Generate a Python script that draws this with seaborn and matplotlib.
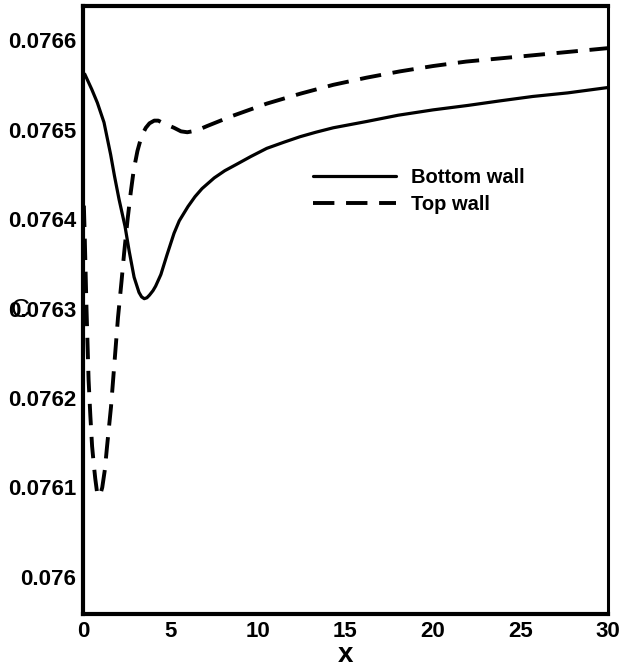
import numpy as np
import pandas as pd
import matplotlib
matplotlib.use("Agg")
import matplotlib.pyplot as plt
from matplotlib.ticker import MultipleLocator
import seaborn as sns

# ---- data ----
bottom_x = [0.1, 0.5, 0.82, 1.2, 1.58, 1.8, 2.06, 2.4, 2.64, 2.92, 3.2, 3.35,
            3.5, 3.65, 3.8, 4.0, 4.15, 4.45, 4.8, 5.2, 5.5, 6.0, 6.4, 6.8, 7.5,
            8.1, 8.76, 9.6, 10.5, 11.5, 12.4, 13.3, 14.3, 16.2, 18.0, 20.0,
            22.0, 23.8, 25.7, 27.7, 30.0]
bottom_c = [0.076562, 0.076545, 0.076530, 0.076508, 0.076472, 0.076448, 0.076422,
            0.076392, 0.076364, 0.076335, 0.076318, 0.076313, 0.076311, 0.076312,
            0.076315, 0.076320, 0.076325, 0.076338, 0.076360, 0.076384, 0.076398,
            0.076414, 0.076425, 0.076434, 0.076446, 0.076454, 0.076461, 0.076470,
            0.076479, 0.076486, 0.076492, 0.076497, 0.076502, 0.076509, 0.076516,
            0.076522, 0.076527, 0.076532, 0.076537, 0.076541, 0.076547]

top_x = [0.05, 0.1, 0.2, 0.32, 0.42, 0.52, 0.62, 0.7, 0.8, 0.9, 1.0, 1.1, 1.25,
         1.37, 1.6, 1.8, 2.0, 2.2, 2.35, 2.55, 2.73, 2.9, 3.11, 3.35, 3.59, 3.8,
         4.07, 4.3, 4.6, 5.2, 5.6, 5.96, 6.5, 7.1, 8.5, 10.5, 12.4, 14.3, 16.2,
         18.1, 20.0, 21.9, 25.7, 30.0]
top_c = [0.076415, 0.076380, 0.076300, 0.076220, 0.076180, 0.076146, 0.076125,
         0.076110, 0.076095, 0.076090, 0.076093, 0.076100, 0.076120, 0.076145,
         0.076190, 0.076240, 0.076290, 0.076330, 0.076362, 0.076400, 0.076430,
         0.076455, 0.076476, 0.076493, 0.076502, 0.076507, 0.076510, 0.076510,
         0.076507, 0.076502, 0.076498, 0.076497, 0.076499, 0.076504, 0.076515,
         0.076529, 0.076540, 0.076550, 0.076558, 0.076565, 0.076571, 0.076576,
         0.076583, 0.076591]

series_labels = ["Bottom wall", "Top wall"]
x_ticks = [0, 5, 10, 15, 20, 25, 30]
y_ticks = [0.0760, 0.0761, 0.0762, 0.0763, 0.0764, 0.0765, 0.0766]
y_tick_labels = ["0.076", "0.0761", "0.0762", "0.0763", "0.0764", "0.0765", "0.0766"]

df_bottom = pd.DataFrame({"x": bottom_x, "C": bottom_c})
df_top = pd.DataFrame({"x": top_x, "C": top_c})

sns.set_theme(style="white")
plt.rcParams["font.family"] = ["Liberation Sans", "DejaVu Sans"]
plt.rcParams["font.weight"] = "bold"
plt.rcParams["text.color"] = "black"
plt.rcParams["axes.labelcolor"] = "black"
plt.rcParams["xtick.color"] = "black"
plt.rcParams["ytick.color"] = "black"

fig = plt.figure(figsize=(6.35, 6.72), dpi=100)
W, H = 635, 672
L, R, T, B = 83, 608, 6, 614
ax = fig.add_axes([L / W, 1 - B / H, (R - L) / W, (B - T) / H])

sns.lineplot(data=df_bottom, x="x", y="C", ax=ax, color="black", lw=2.3,
             label=series_labels[0], sort=False)
sns.lineplot(data=df_top, x="x", y="C", ax=ax, color="black", lw=2.8,
             label=series_labels[1], sort=False)
ax.lines[1].set_dashes((5.5, 3.0))
for ln in ax.lines:
    ln.set_solid_joinstyle("round")
    ln.set_dash_joinstyle("round")

ax.set_xlim(0, 30)
ax.set_ylim(0.0759586, 0.0766381)
ax.set_xticks(x_ticks)
ax.set_xticklabels([str(v) for v in x_ticks])
ax.set_yticks(y_ticks)
ax.set_yticklabels(y_tick_labels)
ax.xaxis.set_minor_locator(MultipleLocator(1))
ax.yaxis.set_minor_locator(MultipleLocator(0.00002))

ax.tick_params(axis="both", which="major", direction="in", length=9, width=2.4,
               labelsize=16, colors="black", top=False, right=False, pad=5)
ax.tick_params(axis="both", which="minor", direction="in", length=4, width=0.9,
               colors="black", top=False, right=False)
for lab in ax.get_xticklabels() + ax.get_yticklabels():
    lab.set_fontweight("bold")
    lab.set_color("black")

for side in ["left", "bottom", "top"]:
    ax.spines[side].set_linewidth(3.0)
    ax.spines[side].set_color("black")
ax.spines["right"].set_linewidth(2.2)
ax.spines["right"].set_color("black")

ax.set_xlabel("x", fontsize=20, fontweight="bold", labelpad=0, color="black")
ax.set_ylabel("")
fig.text(20 / W, 1 - 310 / H, "C", fontsize=19, fontweight="normal",
         ha="center", va="center", color="black")

handles, labels = ax.get_legend_handles_labels()
leg = ax.legend(handles, labels, loc="upper left",
                bbox_to_anchor=((313 - L) / (R - L), (B - 168) / (B - T)),
                frameon=False, fontsize=14.5, handlelength=4.1,
                handletextpad=0.75, labelspacing=0.4, borderpad=0,
                borderaxespad=0)
for t in leg.get_texts():
    t.set_fontweight("bold")
    t.set_color("black")

fig.savefig("out.png", dpi=100)
